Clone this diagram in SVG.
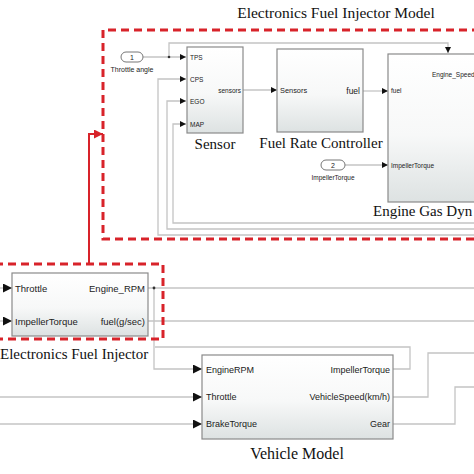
<svg xmlns="http://www.w3.org/2000/svg" width="474" height="474" viewBox="0 0 474 474">
<defs>
<linearGradient id="blk" x1="0" y1="0" x2="0" y2="1">
<stop offset="0" stop-color="#ffffff"/>
<stop offset="0.55" stop-color="#f7f8f8"/>
<stop offset="1" stop-color="#dde2e2"/>
</linearGradient>
<marker id="arr" viewBox="0 0 10 10" refX="10" refY="5" markerWidth="9" markerHeight="9" markerUnits="userSpaceOnUse" orient="auto">
<path d="M0,0 L10,5 L0,10 z" fill="#111"/>
</marker>
<marker id="arrs" viewBox="0 0 10 10" refX="10" refY="5" markerWidth="6" markerHeight="6" markerUnits="userSpaceOnUse" orient="auto">
<path d="M0,0 L10,5 L0,10 z" fill="#111"/>
</marker>
<marker id="arrr" viewBox="0 0 10 10" refX="10" refY="5" markerWidth="9" markerHeight="9" markerUnits="userSpaceOnUse" orient="auto">
<path d="M0,0 L10,5 L0,10 z" fill="#d8232a"/>
</marker>
</defs>
<style>
.blk{fill:url(#blk);stroke:#8a8a8a;stroke-width:1.2}
.ln{fill:none;stroke:#c4c4c4;stroke-width:1.3}
.red{fill:none;stroke:#d8232a;stroke-width:3;stroke-dasharray:8 5}
.serif{font-family:"Liberation Serif","Times New Roman",serif;fill:#111}
.p{font-family:"Liberation Sans",Arial,sans-serif;fill:#222}
.inport{fill:#fff;stroke:#777;stroke-width:1}
</style>
<rect width="474" height="474" fill="#fff"/>

<text class="serif" x="336" y="18" font-size="15.5" text-anchor="middle">Electronics Fuel Injector Model</text>

<g id="connectors">
<path class="ln" d="M143,57 H186" marker-end="url(#arrs)"/>
<path class="ln" d="M169,57 V43 H448 V53" marker-end="url(#arrs)"/>
<circle cx="169" cy="57" r="1.3" fill="#333"/>
<path class="ln" d="M480,235 H158 V79 H186" marker-end="url(#arrs)"/>
<path class="ln" d="M480,229 H167 V101 H186" marker-end="url(#arrs)"/>
<path class="ln" d="M480,223 H173 V124 H186" marker-end="url(#arrs)"/>
<path class="ln" d="M243,90 H277" marker-end="url(#arrs)"/>
<path class="ln" d="M363,91 H388" marker-end="url(#arrs)"/>
<path class="ln" d="M345,165 H388" marker-end="url(#arrs)"/>

<path class="ln" d="M0,288 H12" marker-end="url(#arr)"/>
<path class="ln" d="M0,321 H12" marker-end="url(#arr)"/>
<path class="ln" d="M148,288 H480"/>
<path class="ln" d="M148,321 H480"/>
<path class="ln" d="M154,288 V369 H202" marker-end="url(#arr)"/>
<circle cx="154" cy="288" r="1.4" fill="#333"/>
<path class="ln" d="M0,397 H202" marker-end="url(#arr)"/>
<path class="ln" d="M0,424 H202" marker-end="url(#arr)"/>
<path class="ln" d="M393,369 H410 V347 H155"/>
<path class="ln" d="M393,397 H428 V353 H480"/>
<path class="ln" d="M393,424 H455 V387 H480"/>
</g>

<g id="throttle-angle-inport">
<rect class="inport" x="121" y="52" width="22" height="10" rx="5"/>
<text class="p" x="132" y="60" font-size="7" text-anchor="middle">1</text>
<text class="p" x="132" y="72" font-size="7" text-anchor="middle">Throttle angle</text>
</g>

<g id="sensor">
<rect class="blk" x="187" y="47" width="56" height="86"/>
<text class="p" x="190" y="59.5" font-size="6.5">TPS</text>
<text class="p" x="190" y="81.5" font-size="6.5">CPS</text>
<text class="p" x="190" y="103.5" font-size="6.5">EGO</text>
<text class="p" x="190" y="126.5" font-size="6.5">MAP</text>
<text class="p" x="241" y="93" font-size="6.5" text-anchor="end">sensors</text>
<text class="serif" x="215" y="149" font-size="15" text-anchor="middle">Sensor</text>
</g>

<g id="fuel-rate-controller">
<rect class="blk" x="277" y="49" width="86" height="83"/>
<text class="p" x="280" y="93" font-size="7.4">Sensors</text>
<text class="p" x="360" y="94" font-size="8.5" text-anchor="end">fuel</text>
<text class="serif" x="321" y="148" font-size="15" text-anchor="middle">Fuel Rate Controller</text>
</g>

<g id="impeller-torque-inport">
<rect class="inport" x="321" y="160" width="24" height="10" rx="5"/>
<text class="p" x="333" y="168" font-size="7" text-anchor="middle">2</text>
<text class="p" x="333" y="180" font-size="6.5" text-anchor="middle">ImpellerTorque</text>
</g>

<g id="engine-gas-dynamics">
<rect class="blk" x="388" y="54" width="100" height="148"/>
<text class="p" x="391" y="93" font-size="6.5">fuel</text>
<text class="p" x="391" y="167.5" font-size="6.5">ImpellerTorque</text>
<text class="p" x="432" y="77" font-size="6.5">Engine_Speed</text>
<text class="serif" x="373" y="216" font-size="15">Engine Gas Dyn</text>
</g>

<g id="electronics-fuel-injector">
<rect class="blk" x="12" y="273" width="136" height="63"/>
<text class="p" x="15" y="292" font-size="9.5">Throttle</text>
<text class="p" x="15" y="325" font-size="9.5">ImpellerTorque</text>
<text class="p" x="145" y="292" font-size="9.5" text-anchor="end">Engine_RPM</text>
<text class="p" x="145" y="325" font-size="9.5" text-anchor="end">fuel(g/sec)</text>
<text class="serif" x="0" y="359" font-size="15">Electronics Fuel Injector</text>
</g>

<g id="vehicle-model">
<rect class="blk" x="202" y="355" width="191" height="84"/>
<text class="p" x="206" y="373" font-size="9">EngineRPM</text>
<text class="p" x="206" y="400" font-size="9">Throttle</text>
<text class="p" x="206" y="427" font-size="9">BrakeTorque</text>
<text class="p" x="390" y="373" font-size="9" text-anchor="end">ImpellerTorque</text>
<text class="p" x="390" y="400" font-size="9" text-anchor="end">VehicleSpeed(km/h)</text>
<text class="p" x="390" y="427" font-size="9" text-anchor="end">Gear</text>
<text class="serif" x="297" y="459" font-size="16" text-anchor="middle">Vehicle Model</text>
</g>

<g id="highlight">
<path class="red" d="M480,30 H103 V239 H480"/>
<path class="red" d="M-5,264 H163 V339 H-5"/>
<path d="M89,264 V134 H103" fill="none" stroke="#d8232a" stroke-width="2" marker-end="url(#arrr)"/>
</g>
</svg>
